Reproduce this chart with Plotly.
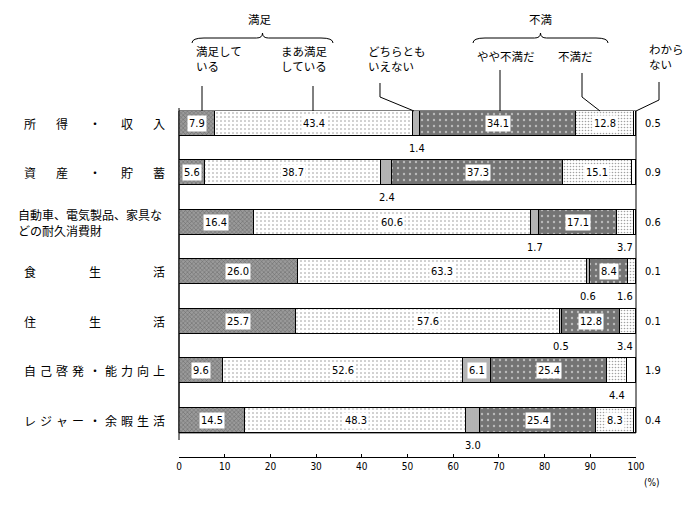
import plotly.graph_objects as go

# ---------------- data ----------------
categories = ["所得・収入", "資産・貯蓄", "自動車、電気製品、家具などの耐久消費財",
              "食生活", "住生活", "自己啓発・能力向上", "レジャー・余暇生活"]
series_names = ["満足している", "まあ満足している", "どちらともいえない",
                "やや不満だ", "不満だ", "わからない"]
satisfied = [7.9, 5.6, 16.4, 26.0, 25.7, 9.6, 14.5]
fairly_satisfied = [43.4, 38.7, 60.6, 63.3, 57.6, 52.6, 48.3]
neutral = [1.4, 2.4, 1.7, 0.6, 0.5, 6.1, 3.0]
fairly_unsatisfied = [34.1, 37.3, 17.1, 8.4, 12.8, 25.4, 25.4]
unsatisfied = [12.8, 15.1, 3.7, 1.6, 3.4, 4.4, 8.3]
unknown = [0.5, 0.9, 0.6, 0.1, 0.1, 1.9, 0.4]
x_ticks = [0, 10, 20, 30, 40, 50, 60, 70, 80, 90, 100]

series = [satisfied, fairly_satisfied, neutral, fairly_unsatisfied, unsatisfied, unknown]

# ---------------- layout geometry ----------------
OFF = 8  # page body margin
W, H = 700 - OFF, 505 - OFF
L, R, T, B = 179 - OFF, 64, 111 - OFF, 48
PW, PH = W - L - R, H - T - B
Y_TOP, Y_BOT = -0.25, 6.74
BAR_W = 0.505

JP = "Noto Sans CJK JP, sans-serif"
NUM = "Liberation Sans Narrow, DejaVu Sans Condensed, Arial Narrow, Liberation Sans, sans-serif"


def px(xp):
    return (xp - OFF - L) / PW


def py(yp):
    return (H - B - (yp - OFF)) / PH


def ypaper(yd):
    return (Y_BOT - yd) / (Y_BOT - Y_TOP)


styles = [
    dict(color="#8a8a8a", pattern=dict(shape="x", bgcolor="#9a9a9a", fgcolor="#303030", size=3, solidity=0.3)),
    dict(color="white", pattern=dict(shape=".", bgcolor="white", fgcolor="#222222", size=4, solidity=0.12)),
    dict(color="#b0b0b0", pattern=dict(shape="|", bgcolor="#d0d0d0", fgcolor="#505050", size=2, solidity=0.45)),
    dict(color="#6e6e6e", pattern=dict(shape=".", bgcolor="#747474", fgcolor="white", size=6, solidity=0.12)),
    dict(color="#eeeeee", pattern=dict(shape=".", bgcolor="white", fgcolor="#444444", size=3, solidity=0.22)),
    dict(color="white"),
]

ypos = list(range(len(categories)))

fig = go.Figure()
for name, vals, st in zip(series_names, series, styles):
    marker = dict(color=st["color"], line=dict(color="black", width=1))
    if "pattern" in st:
        marker["pattern"] = st["pattern"]
    fig.add_trace(go.Bar(orientation="h", x=vals, y=ypos, name=name, width=BAR_W,
                         marker=marker, showlegend=False, hoverinfo="skip"))

annotations = []
# value labels
for i in range(len(categories)):
    cum = 0.0
    for s, vals in enumerate(series):
        v = vals[i]
        center = cum + v / 2
        cum += v
        label = f"{v:.1f}"
        if s == 5:
            annotations.append(dict(x=px(643), y=i, xref="paper", yref="y", text=label, showarrow=False,
                                    xanchor="left", yanchor="middle",
                                    font=dict(family=NUM, size=11, color="black")))
        elif v >= 5:
            annotations.append(dict(x=center, y=i, xref="x", yref="y", text=label, showarrow=False,
                                    bgcolor="white", borderpad=1,
                                    font=dict(family=NUM, size=11, color="black")))
        else:
            annotations.append(dict(x=min(center, 97.7), y=i + 0.5, xref="x", yref="y", text=label,
                                    showarrow=False, font=dict(family=NUM, size=11, color="black")))

# category labels (justified characters)
for i, cat in enumerate(categories):
    if len(cat) > 10:
        annotations.append(dict(x=px(16), y=i, xref="paper", yref="y",
                                text=cat[:12] + "<br>" + cat[12:], showarrow=False,
                                xanchor="left", align="left", yanchor="middle",
                                font=dict(family=JP, size=12, color="black")))
    else:
        n = len(cat)
        for k, ch in enumerate(cat):
            xc = 22 + k * (151 - 22) / (n - 1)
            annotations.append(dict(x=px(xc), y=i, xref="paper", yref="y", text=ch,
                                    showarrow=False, yanchor="middle",
                                    font=dict(family=JP, size=12, color="black")))

# header labels
headers = [
    ("満足", 260, 19, "center"), ("不満", 540, 19, "center"),
    ("満足して<br>いる", 194, 59, "left"), ("まあ満足<br>している", 279, 59, "left"),
    ("どちらとも<br>いえない", 366, 59, "left"), ("やや不満だ", 475, 56, "left"),
    ("不満だ", 556, 56, "left"), ("わから<br>ない", 647, 57, "left"),
]
for txt, xp, yp, anc in headers:
    annotations.append(dict(x=px(xp), y=py(yp), xref="paper", yref="paper", text=txt,
                            showarrow=False, xanchor=anc, align="left", yanchor="middle",
                            font=dict(family=JP, size=11.5, color="black")))
annotations.append(dict(x=px(642), y=py(482), xref="paper", yref="paper", text="(%)",
                        showarrow=False, xanchor="left", yanchor="middle",
                        font=dict(family=NUM, size=10, color="black")))

shapes = []


def path_px(points):
    d = "M " + " L ".join(f"{px(a):.5f},{py(b):.5f}" for a, b in points)
    return dict(type="path", path=d, xref="paper", yref="paper",
                line=dict(color="black", width=1))


# braces
for x0, x1 in [(192, 333), (473, 608)]:
    xm = (x0 + x1) / 2
    d = (f"M {px(x0)},{py(43)} Q {px(x0)},{py(38)} {px(x0 + 12)},{py(38)} "
         f"L {px(xm - 6)},{py(38)} Q {px(xm)},{py(38)} {px(xm)},{py(33)} "
         f"Q {px(xm)},{py(38)} {px(xm + 6)},{py(38)} "
         f"L {px(x1 - 12)},{py(38)} Q {px(x1)},{py(38)} {px(x1)},{py(43)}")
    shapes.append(dict(type="path", path=d, xref="paper", yref="paper",
                       line=dict(color="black", width=1)))

# leader lines
leaders = [
    [(202, 86), (202, 111)],
    [(313, 86), (313, 111)],
    [(380, 83), (380, 97), (414, 111)],
    [(500, 70), (500, 111)],
    [(582, 73), (582, 97), (600, 111)],
    [(659, 82), (659, 100), (636, 111)],
]
for pts in leaders:
    shapes.append(path_px(pts))

# frame
shapes.append(dict(type="rect", xref="paper", yref="paper", x0=0, x1=1,
                   y0=ypaper(len(categories) - 1 + BAR_W / 2), y1=1,
                   line=dict(color="black", width=1), fillcolor="rgba(0,0,0,0)", layer="below"))
shapes.append(dict(type="line", xref="paper", yref="paper", x0=0, x1=0,
                   y0=py(440), y1=py(108), line=dict(color="black", width=1)))

fig.update_layout(
    width=W, height=H, barmode="stack", bargap=0,
    margin=dict(l=L, r=R, t=T, b=B, pad=0),
    paper_bgcolor="white", plot_bgcolor="white",
    xaxis=dict(range=[0, 100], tickvals=x_ticks, showgrid=False, zeroline=False,
               showline=True, linecolor="black", linewidth=1, ticks="inside", ticklen=3,
               tickcolor="black", tickfont=dict(family=NUM, size=10, color="black"), fixedrange=True),
    yaxis=dict(range=[Y_BOT, Y_TOP], showgrid=False, zeroline=False, showticklabels=False,
               showline=False, fixedrange=True),
    annotations=annotations, shapes=shapes,
)

fig.write_html("out.html")
